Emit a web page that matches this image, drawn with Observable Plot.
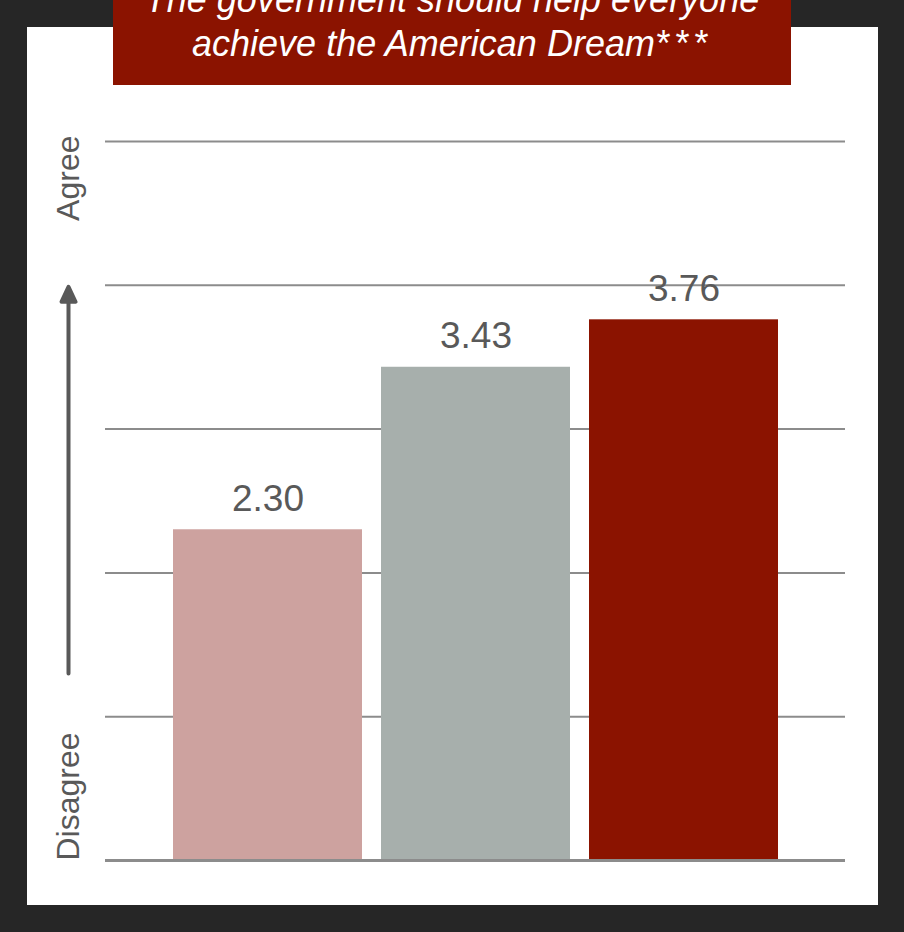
<!DOCTYPE html>
<html><head><meta charset="utf-8">
<script src="https://cdn.jsdelivr.net/npm/d3@7"></script>
<script src="https://cdn.jsdelivr.net/npm/@observablehq/plot@0.6"></script>
<style>
html,body{margin:0;padding:0;background:#262626;}
#wrap{position:relative;width:904px;height:932px;overflow:hidden;background:#262626;}
#panel{position:absolute;left:27px;top:27px;width:851px;height:878px;background:#fff;}
#chart{position:absolute;left:0;top:0;}
#title{position:absolute;left:113px;top:0;width:678px;height:85px;background:#8b1300;overflow:hidden;}
#title div{position:absolute;left:0;right:0;top:-22px;text-align:center;color:#fff;font:italic 36px/44px "Liberation Sans",Arial,sans-serif;}
#title span{letter-spacing:5px;}
</style></head>
<body>
<div id="wrap">
  <div id="panel"></div>
  <div id="chart"></div>
  <div id="title"><div>The government should help everyone<br>achieve the American Dream<span>***</span></div></div>
</div>
<script>
// Data
const groups = ["Group 1", "Group 2", "Group 3"];
const values = [2.30, 3.43, 3.76];
const barColors = ["#cda29f", "#a7afac", "#8b1300"];
const gridTicks = [1, 2, 3, 4, 5];
const baseline = [0];
const topLabel = [{y: 5, text: "Agree"}];
const bottomLabel = [{y: 0, text: "Disagree"}];
const arrowSpan = {from: 1.3, to: 3.99};

const data = groups.map((g, i) => ({group: g, value: values[i]}));

const W = 904, H = 932, mT = 141, mB = 72, mL = 105, mR = 59;
const yMax = 5;
const pxPerUnit = (H - mT - mB) / yMax;

const arrowShape = {
  draw(ctx, l) {
    const head = 15, half = 7;
    ctx.moveTo(0, 0);
    ctx.lineTo(0, -(l - head + 1));
    ctx.moveTo(-half, -(l - head));
    ctx.lineTo(0, -l);
    ctx.lineTo(half, -(l - head));
    ctx.closePath();
  }
};

const labelOpts = {y: "y", text: "text", frameAnchor: "left", dx: -37, rotate: -90, fontSize: 32, fill: "#595959"};

const chart = Plot.plot({
  width: W, height: H,
  marginLeft: mL, marginRight: mR, marginTop: mT, marginBottom: mB,
  style: {background: "transparent", fontFamily: "'Liberation Sans', Arial, sans-serif"},
  x: {domain: groups, range: [173, 779], paddingInner: 0.0913, paddingOuter: 0, axis: null},
  y: {domain: [0, yMax], axis: null},
  color: {domain: groups, range: barColors},
  marks: [
    Plot.ruleY(gridTicks, {stroke: "#8c8c8c", strokeWidth: 2}),
    Plot.barY(data, {x: "group", y: "value", fill: "group"}),
    Plot.ruleY(baseline, {stroke: "#8c8c8c", strokeWidth: 3}),
    Plot.text(data, {x: "group", y: "value", text: d => d.value.toFixed(2), dy: -31, fontSize: 37, fill: "#595959"}),
    Plot.text(topLabel, {...labelOpts, textAnchor: "end", dy: -6}),
    Plot.text(bottomLabel, {...labelOpts, textAnchor: "start"}),
    Plot.vector([arrowSpan], {
      y: "from", frameAnchor: "left", dx: -37, anchor: "start", rotate: 0,
      length: (arrowSpan.to - arrowSpan.from) * pxPerUnit,
      shape: arrowShape, stroke: "#595959", fill: "#595959", strokeWidth: 4
    })
  ]
});
document.getElementById("chart").appendChild(chart);
</script>
</body></html>
